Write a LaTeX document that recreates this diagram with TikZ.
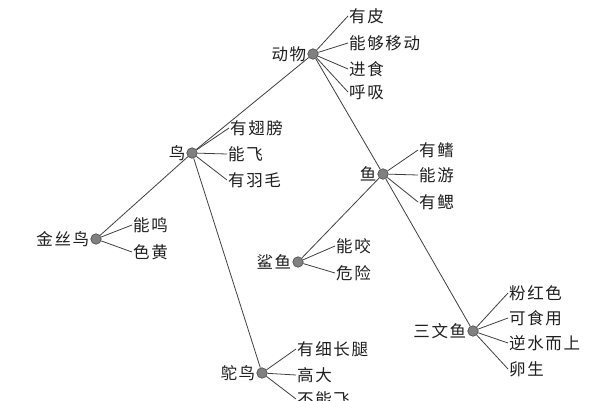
\documentclass[tikz,border=0pt]{standalone}
\usepackage{fontspec}
\setmainfont{Noto Sans CJK SC}[LetterSpace=10]
\begin{document}
\begin{tikzpicture}[x=1pt,y=-1pt,
  dot/.style={circle,fill=black!50,draw=black!70,line width=0.6pt,minimum size=10.5pt,inner sep=0pt},
  lbl/.style={font=\fontsize{16.5}{16.5}\selectfont,text=black!88,inner sep=1pt},
  leaf/.style={lbl,anchor=west},
  edge/.style={draw=black!75,line width=0.8pt}]
\clip (0,0) rectangle (600,400);
\fill[white] (0,0) rectangle (600,400);
% internal nodes
\node[dot] (dw) at (313,54) {};
\node[dot] (niao) at (192,153) {};
\node[dot] (jsn) at (96,239) {};
\node[dot] (yu) at (383,174) {};
\node[dot] (sy) at (298,262) {};
\node[dot] (swy) at (473,331) {};
\node[dot] (tn) at (262,373) {};
% their labels
\node[lbl,anchor=east] (ldw) at (dw.west) {动物};
\node[lbl,anchor=east] (lniao) at (niao.west) {鸟};
\node[lbl,anchor=east] (ljsn) at (jsn.west) {金丝鸟};
\node[lbl,anchor=east] (lyu) at (yu.west) {鱼};
\node[lbl,anchor=east] (lsy) at (sy.west) {鲨鱼};
\node[lbl,anchor=east] (lswy) at (swy.west) {三文鱼};
\node[lbl,anchor=east] (ltn) at (tn.west) {鸵鸟};
% leaves
\node[leaf] (a1) at (348,16) {有皮};
\node[leaf] (a2) at (348,43) {能够移动};
\node[leaf] (a3) at (348,69) {进食};
\node[leaf] (a4) at (348,92) {呼吸};
\node[leaf] (b1) at (229,128) {有翅膀};
\node[leaf] (b2) at (227,154) {能飞};
\node[leaf] (b3) at (227,180) {有羽毛};
\node[leaf] (c1) at (132,225) {能鸣};
\node[leaf] (c2) at (132,252) {色黄};
\node[leaf] (d1) at (418,150) {有鳍};
\node[leaf] (d2) at (418,175) {能游};
\node[leaf] (d3) at (418,202) {有鳃};
\node[leaf] (e1) at (335,246) {能咬};
\node[leaf] (e2) at (335,273) {危险};
\node[leaf] (f1) at (508,293) {粉红色};
\node[leaf] (f2) at (508,318) {可食用};
\node[leaf] (f3) at (508,343) {逆水而上};
\node[leaf] (f4) at (508,369) {卵生};
\node[leaf] (g1) at (296,349) {有细长腿};
\node[leaf] (g2) at (296,375) {高大};
\node[leaf] (g3) at (296,399) {不能飞};
% tree edges
\draw[edge] (dw) -- (niao);
\draw[edge] (dw) -- (yu);
\draw[edge] (niao) -- (jsn);
\draw[edge] (niao) -- (tn);
\draw[edge] (yu) -- (sy);
\draw[edge] (yu) -- (swy);
% leaf edges
\foreach \p/\l in {dw/a1,dw/a2,dw/a3,dw/a4,niao/b1,niao/b2,niao/b3,jsn/c1,jsn/c2,yu/d1,yu/d2,yu/d3,sy/e1,sy/e2,swy/f1,swy/f2,swy/f3,swy/f4,tn/g1,tn/g2,tn/g3}
  \draw[edge] (\p) -- (\l.west);
\end{tikzpicture}
\end{document}
